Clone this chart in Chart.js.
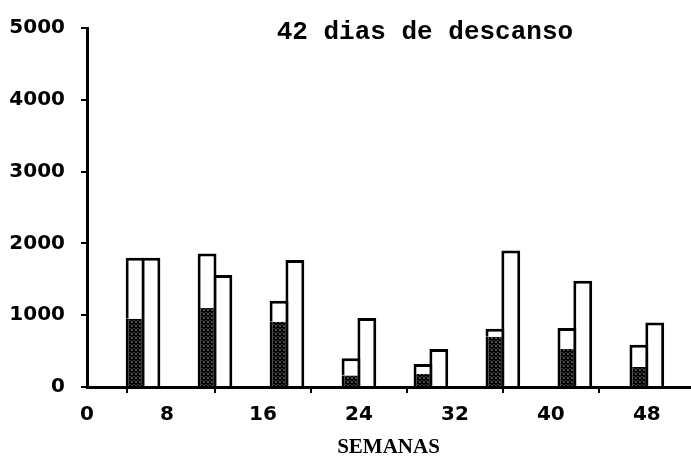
<!DOCTYPE html>
<html>
<head>
<meta charset="utf-8">
<script src="https://cdn.jsdelivr.net/npm/chart.js@4.4.0/dist/chart.umd.min.js"></script>
<style>
  html, body { margin: 0; padding: 0; background: #fff; }
</style>
</head>
<body>
<canvas id="barChart" width="691" height="460"></canvas>
<script>
/* DATA */
const weeks = [6, 12, 18, 24, 30, 36, 42, 48];
const shaded = [950, 1100, 910, 160, 180, 700, 530, 280];
const firstTotal = [1800, 1860, 1200, 400, 320, 810, 820, 590];
const second = [1800, 1560, 1770, 960, 530, 1900, 1480, 900];
const xTicks = [0, 8, 16, 24, 32, 40, 48];
const yTicks = [0, 1000, 2000, 3000, 4000, 5000];
const chartTitle = "42 dias de descanso";
const xTitle = "SEMANAS";

const tickFont = { family: "DejaVu Sans", size: 20, weight: "bold" };

/* crosshatch fill for the lower part of the first bar */
function hatch() {
    const c = document.createElement("canvas");
    c.width = 4; c.height = 4;
    const g = c.getContext("2d");
    g.fillStyle = "#fff";
    g.fillRect(0, 0, 4, 4);
    g.strokeStyle = "#000";
    g.lineWidth = 1.8;
    g.beginPath();
    g.moveTo(-1, -1); g.lineTo(5, 5);
    g.moveTo(-1, 5); g.lineTo(5, -1);
    g.stroke();
    return g.createPattern(c, "repeat");
}

const pts = arr => weeks.map((w, i) => ({ x: w, y: arr[i] }));
const upper = weeks.map((w, i) => ({ x: w, y: firstTotal[i] - shaded[i] }));

const barOpts = { categoryPercentage: 0.44, barPercentage: 1.19, borderColor: "#000" };

/* title written inside the plot */
const inTitle = {
    id: "inTitle",
    afterDraw(chart) {
        const { ctx, scales: { x, y } } = chart;
        ctx.save();
        ctx.font = 'bold 26px "Liberation Mono"';
        ctx.fillStyle = "#000";
        ctx.textAlign = "center";
        ctx.textBaseline = "middle";
        ctx.fillText(chartTitle, x.getPixelForValue(29.5), y.getPixelForValue(4940));
        ctx.restore();
    }
};

new Chart(document.getElementById("barChart"), {
    type: "bar",
    data: {
        datasets: [
            Object.assign({ data: pts(shaded), stack: "a", backgroundColor: hatch(),
                borderWidth: { left: 3, right: 3, top: 0, bottom: 0 } }, barOpts),
            Object.assign({ data: upper, stack: "a", backgroundColor: "#fff", borderWidth: 3 }, barOpts),
            Object.assign({ data: pts(second), stack: "b", backgroundColor: "#fff", borderWidth: 3 }, barOpts)
        ]
    },
    options: {
        responsive: false,
        animation: false,
        layout: { padding: { left: 9, right: 1, top: 26, bottom: 0 } },
        plugins: { legend: { display: false }, tooltip: { enabled: false } },
        scales: {
            x: {
                type: "linear",
                min: 1.33,
                max: 51.6,
                offset: false,
                grid: { drawOnChartArea: false, tickLength: 6, color: "#000", lineWidth: 2 },
                border: { color: "#000", width: 3 },
                afterBuildTicks: s => { s.ticks = xTicks.map(v => ({ value: Math.max(v, s.min) })); },
                afterFit: s => { s.height = 73; },
                ticks: {
                    callback: (v, i) => String(xTicks[i]),
                    font: tickFont, color: "#000", padding: 10, maxRotation: 0, autoSkip: false
                },
                title: {
                    display: true, text: xTitle, color: "#000",
                    font: { family: "Liberation Serif", size: 21, weight: "bold" },
                    padding: { top: 8, bottom: 0 }
                }
            },
            y: {
                min: 0,
                max: 5000,
                stacked: true,
                grid: { drawOnChartArea: false, tickLength: 6, color: "#000", lineWidth: 2 },
                border: { color: "#000", width: 3 },
                afterBuildTicks: s => { s.ticks = yTicks.map(v => ({ value: v })); },
                afterFit: s => { s.width = 78; },
                ticks: { callback: v => String(v), font: tickFont, color: "#000", padding: 16 }
            }
        }
    },
    plugins: [inTitle]
});
</script>
</body>
</html>
